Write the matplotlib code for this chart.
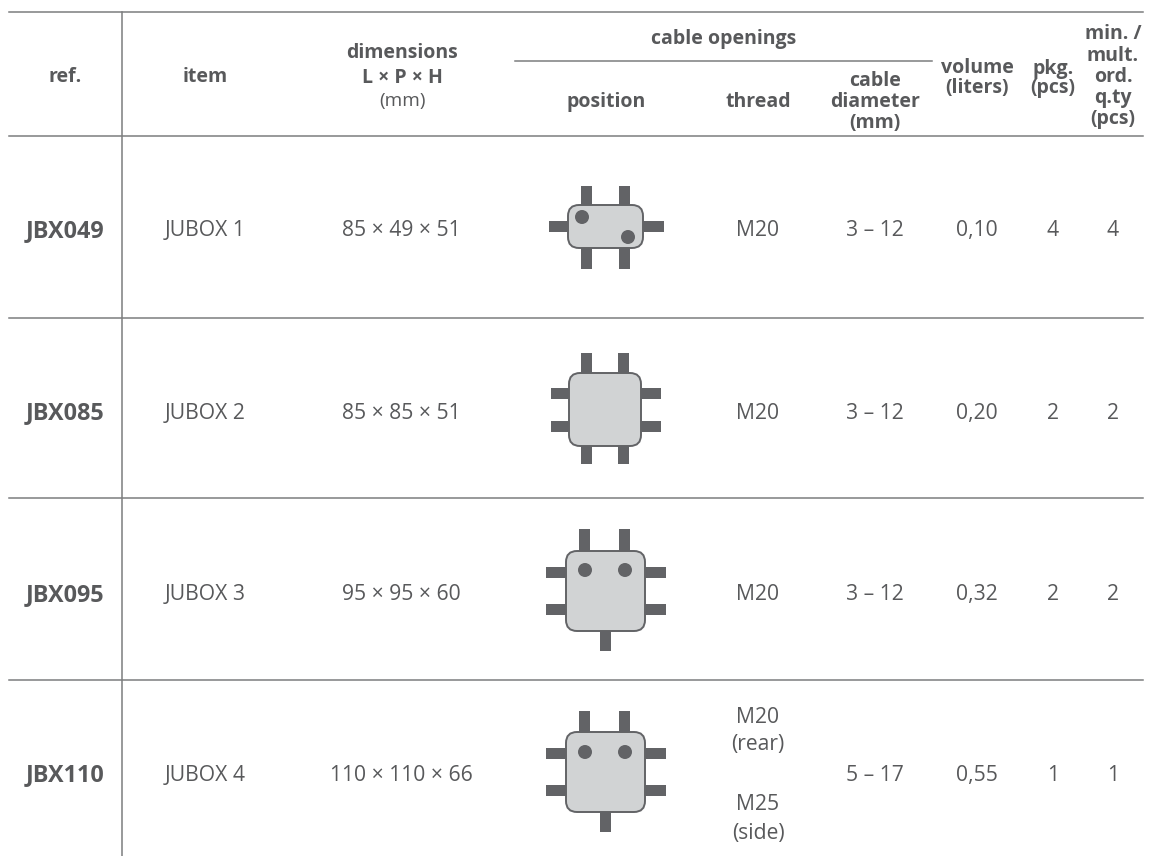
#!/usr/bin/env python
import matplotlib
matplotlib.use("Agg")
import matplotlib.pyplot as plt
from matplotlib.patches import FancyBboxPatch, Rectangle, Circle

plt.rcParams['font.family'] = ['Open Sans', 'DejaVu Sans']

# table content
refs = ["JBX049", "JBX085", "JBX095", "JBX110"]
items = ["JUBOX 1", "JUBOX 2", "JUBOX 3", "JUBOX 4"]
dimensions = ["85 × 49 × 51", "85 × 85 × 51", "95 × 95 × 60", "110 × 110 × 66"]
threads = ["M20", "M20", "M20", None]
diameters = ["3 – 12", "3 – 12", "3 – 12", "5 – 17"]
volumes = ["0,10", "0,20", "0,32", "0,55"]
packages = ["4", "2", "2", "1"]
min_orders = ["4", "2", "2", "1"]
last_thread = ["M20", "(rear)", "M25", "(side)"]

# layout, in pixels of the picture
W, H = 1153, 856
GREY = "#58595b"
LINE = "#7c7d7f"
BODY = "#d1d3d4"
STUB = "#626366"
row_y = [228.5, 411, 592.5, 773]

# icons: body box, stub x positions, stub y positions, bottom stub, dots
icons = [
    dict(box=(568, 205, 643, 248), top=[586.5, 624.5], side=[226.5], ytop=186, ybot=269,
         xl=549, xr=664, bottom=[586.5, 624.5], dots=[(582, 217), (628, 237)]),
    dict(box=(569, 373, 641, 446), top=[586, 623], side=[393, 426], ytop=353, ybot=464,
         xl=551, xr=661, bottom=[586, 623], dots=[]),
    dict(box=(566, 551, 645, 631), top=[584.5, 624.5], side=[572.5, 609], ytop=529, ybot=651,
         xl=546, xr=666, bottom=[605.5], dots=[(585, 570), (625, 570)]),
    dict(box=(566, 732, 645, 812), top=[584.5, 624.5], side=[753.5, 790.5], ytop=711, ybot=832,
         xl=546, xr=666, bottom=[605.5], dots=[(585, 752), (625, 752)]),
]

fig = plt.figure(figsize=(W / 100, H / 100), dpi=100)
ax = fig.add_axes([0, 0, 1, 1])
ax.set_xlim(0, W)
ax.set_ylim(H, 0)
ax.axis("off")


def txt(x, y, s, bold=False, size=15.2):
    # baseline placement so commas and brackets do not shift a line
    ax.text(x, y + 0.357 * size * 100 / 72, s, ha="center", va="baseline", color=GREY,
            fontsize=size, fontweight="bold" if bold else "normal")


# rules
for y in [12, 136, 318, 498, 680]:
    ax.plot([9, 1143], [y, y], color=LINE, lw=1.1)
ax.plot([122, 122], [12, 856], color=LINE, lw=1.1)
ax.plot([515, 932], [61, 61], color=LINE, lw=1.1)

# header
HS = 14
txt(65, 75, "ref.", True, HS)
txt(205, 75, "item", True, HS)
txt(402, 51, "dimensions", True, HS)
txt(402, 76, "L × P × H", True, HS)
txt(402, 99, "(mm)", False, 13.7)
txt(724, 37, "cable openings", True, HS)
txt(606, 100, "position", True, HS)
txt(758, 100, "thread", True, HS)
for y, s in zip([79, 100, 121], ["cable", "diameter", "(mm)"]):
    txt(875, y, s, True, HS)
for y, s in zip([66, 86], ["volume", "(liters)"]):
    txt(977, y, s, True, HS)
for y, s in zip([67, 86], ["pkg.", "(pcs)"]):
    txt(1053, y, s, True, HS)
for y, s in zip([32, 54, 75, 96, 117], ["min. /", "mult.", "ord.", "q.ty", "(pcs)"]):
    txt(1113, y, s, True, HS)

# rows
for i, y in enumerate(row_y):
    txt(65, y, refs[i], True, 16.8)
    txt(205, y, items[i])
    txt(401, y, dimensions[i])
    if threads[i] is not None:
        txt(758, y, threads[i])
    else:
        for ty, s in zip([715, 742.5, 802, 831], last_thread):
            txt(758, ty, s)
    txt(875, y, diameters[i])
    txt(977, y, volumes[i])
    txt(1053, y, packages[i])
    txt(1113, y, min_orders[i])

# icons
for ic in icons:
    x0, y0, x1, y1 = ic["box"]
    for x in ic["top"]:
        ax.add_patch(Rectangle((x - 5.5, ic["ytop"]), 11, y0 - ic["ytop"] + 2, color=STUB, lw=0))
    for x in ic["bottom"]:
        ax.add_patch(Rectangle((x - 5.5, y1 - 2), 11, ic["ybot"] - y1 + 2, color=STUB, lw=0))
    for y in ic["side"]:
        ax.add_patch(Rectangle((ic["xl"], y - 5.5), x0 - ic["xl"] + 2, 11, color=STUB, lw=0))
        ax.add_patch(Rectangle((x1 - 2, y - 5.5), ic["xr"] - x1 + 2, 11, color=STUB, lw=0))
    r = 11
    ax.add_patch(FancyBboxPatch((x0 + r, y0 + r), x1 - x0 - 2 * r, y1 - y0 - 2 * r,
                                boxstyle=f"round,pad={r},rounding_size={r}",
                                facecolor=BODY, edgecolor=STUB, lw=1.4, zorder=3))
    for d in ic["dots"]:
        ax.add_patch(Circle(d, 7, color=STUB, lw=0, zorder=4))

fig.savefig("out.png", dpi=100)
